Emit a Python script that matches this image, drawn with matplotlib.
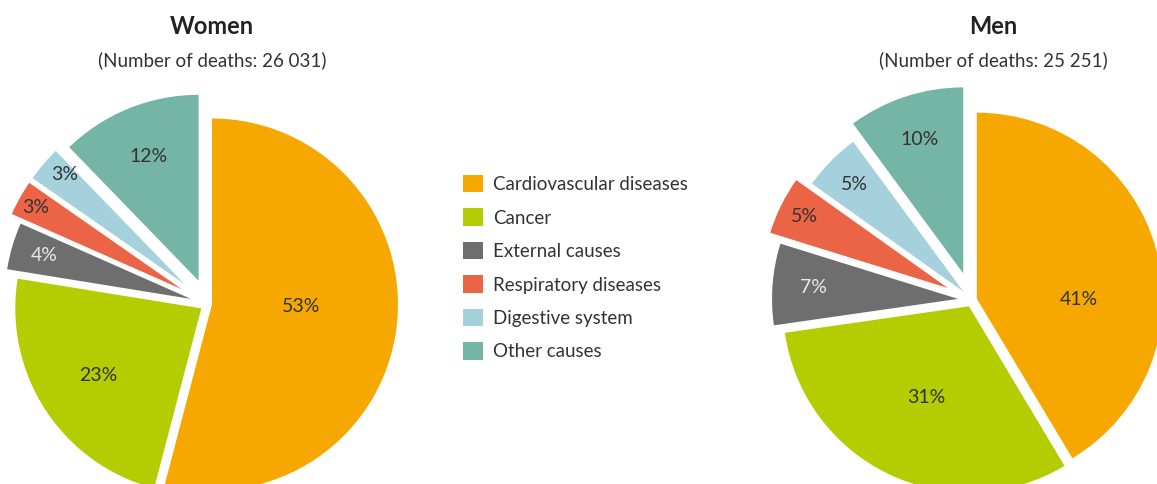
import matplotlib
matplotlib.use("Agg")
import matplotlib.pyplot as plt
import numpy as np

plt.rcParams['font.family'] = ['Lato', 'DejaVu Sans']

causes = ['Cardiovascular diseases', 'Cancer', 'External causes',
          'Respiratory diseases', 'Digestive system', 'Other causes']
women = [53, 23, 4, 3, 3, 12]
men = [41, 31, 7, 5, 5, 10]
women_total = '26 031'
men_total = '25 251'

colors = ['#F6A800', '#B4CC02', '#6E6E6E', '#EC6446', '#A5D1DC', '#75B5A5']
label_colors = ['#333333', '#333333', '#E8E8E8', '#333333', '#333333', '#333333']

W, H = 1157, 484
R = 186

fig = plt.figure(figsize=(W / 100, H / 100), dpi=100)
ax = fig.add_axes([0, 0, 1, 1])


def draw(values, cx, cy, explode_px, label_dist, label_turn):
    # explode is an absolute offset in data units (= pixels here)
    wedges, _ = ax.pie(values, colors=colors, startangle=90, counterclock=False,
                       radius=R, center=(cx, H - cy), explode=explode_px,
                       wedgeprops=dict(linewidth=0))
    for w, v, d, t, c in zip(wedges, values, label_dist, label_turn, label_colors):
        mid = np.deg2rad((w.theta1 + w.theta2) / 2 + t)
        x = w.center[0] + d * R * np.cos(mid)
        y = w.center[1] + d * R * np.sin(mid)
        ax.text(x, y, f'{v}%', ha='center', va='center', fontsize=14, color=c)
    return wedges


wedges = draw(women, 208, 304, [4, 8, 18, 30, 30, 25],
              [0.48, 0.66, 0.82, 0.90, 0.88, 0.72], [6, 0, 0, 0, -2, 0])
draw(men, 972, 300, [5, 7, 14, 27, 12, 28],
     [0.55, 0.54, 0.78, 0.86, 0.82, 0.76], [-16, 0, 0, 0, 0, 0])

for x, name, total in [(212, 'Women', women_total), (993, 'Men', men_total)]:
    ax.text(x, H - 27, name, ha='center', va='center', fontsize=17,
            fontweight='bold', color='#222222')
    ax.text(x, H - 60, f'(Number of deaths: {total})', ha='center', va='center',
            fontsize=13.5, color='#333333')

ax.set_xlim(0, W)
ax.set_ylim(0, H)
ax.set_aspect('equal')
ax.axis('off')

fig.legend(wedges, causes, loc='upper left', bbox_to_anchor=(463 / W, 1 - 175 / H),
           frameon=False, fontsize=13.5, handlelength=1.05, handleheight=1.05,
           handletextpad=0.55, labelspacing=0.82, borderpad=0, borderaxespad=0,
           labelcolor='#333333')

fig.savefig('out.png', dpi=100)
